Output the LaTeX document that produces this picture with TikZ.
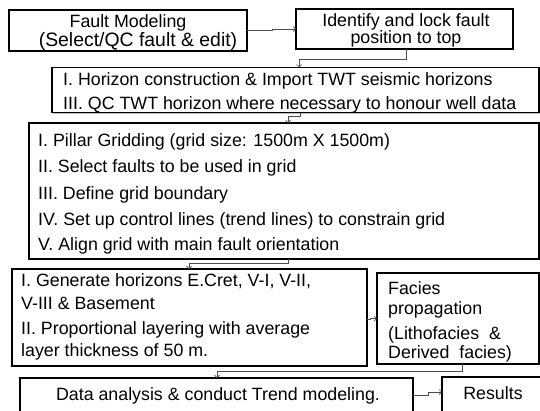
\documentclass[tikz,border=0pt]{standalone}
\usepackage{fontspec}
\setmainfont{Liberation Sans}
\usetikzlibrary{arrows.meta,shadows}

\tikzset{
  box/.style={draw=black, line width=1.1pt, fill=white, inner sep=0pt, outer sep=0pt,
    rectangle, drop shadow={shadow xshift=1.2pt, shadow yshift=-1.2pt, fill=black!45, opacity=0.6}},
  txt/.style={inner sep=0pt, yshift=-4pt, font=\fontsize{17.8}{20}\selectfont},
  lt/.style={txt, anchor=mid west},
  ct/.style={txt, anchor=mid},
  conn/.style={draw=black!70, line width=0.7pt},
  arr/.style={conn, -{Straight Barb[length=2.5pt,width=5pt]}}
}

\begin{document}
\begin{tikzpicture}[x=1pt, y=-1pt]
\useasboundingbox (0,0) rectangle (540,410);

% process boxes
\node[box, minimum width=238pt, minimum height=41pt]  (b1) at (128,30.5) {};
\node[box, minimum width=217pt, minimum height=40pt]  (b2) at (404.5,29) {};
\node[box, minimum width=487pt, minimum height=45pt]  (b3) at (295.5,90) {};
\node[box, minimum width=510pt, minimum height=136pt] (b4) at (284,191) {};
\node[box, minimum width=355pt, minimum height=97pt]  (b5) at (189.5,317.5) {};
\node[box, minimum width=162pt, minimum height=91pt]  (b6) at (458,318.5) {};
\node[box, minimum width=393pt, minimum height=44pt]  (b7) at (216.5,400) {};
\node[box, minimum width=116pt, minimum height=44pt]  (b8) at (500,399) {};

% box texts
\node[ct] (t1a) at (128,21) {Fault Modeling};
\node[ct, font=\fontsize{19.4}{22}\selectfont] (t1b) at (138,40) {(Select/QC fault \& edit)};
\node[ct] (t2a) at (406,20) {Identify and lock fault};
\node[ct] (t2b) at (406,37) {position to top};

\node[lt] (t3a) at (63,79)  {I. Horizon construction \& Import TWT seismic horizons};
\node[lt] (t3b) at (63,103) {III. QC TWT horizon where necessary to honour well data};

\node[lt] (t4a) at (38,140) {I. Pillar Gridding (grid size: 1500m X 1500m)};
\node[lt] (t4b) at (38,166) {II. Select faults to be used in grid};
\node[lt] (t4c) at (38,193) {III. Define grid boundary};
\node[lt] (t4d) at (38,219) {IV. Set up control lines (trend lines) to constrain grid};
\node[lt] (t4e) at (38,244) {V. Align grid with main fault orientation};

\node[lt] (t5a) at (21,280) {I. Generate horizons E.Cret, V-I, V-II,};
\node[lt] (t5b) at (21,303) {V-III \& Basement};
\node[lt] (t5c) at (21,328) {II. Proportional layering with average};
\node[lt] (t5d) at (21,350) {layer thickness of 50 m.};

\node[lt] (t6a) at (388,288) {Facies};
\node[lt] (t6b) at (388,308) {propagation};
\node[lt] (t6c) at (388,333) {(Lithofacies\ \ \&};
\node[lt] (t6d) at (388,352) {Derived\ \ facies)};

\node[ct] (t7) at (218,394) {Data analysis \& conduct Trend modeling.};
\node[ct] (t8) at (493,393) {Results};

% bend points of the connectors
\coordinate (j1) at (272,30);
\coordinate (j2a) at (406,59);
\coordinate (j2b) at (299,59);
\coordinate (j3a) at (300,116);
\coordinate (j3b) at (288,116);
\coordinate (j4a) at (288,263);
\coordinate (j4b) at (189,263);
\coordinate (j5) at (370,319);
\coordinate (j6a) at (462,371);
\coordinate (j6b) at (217,371);
\coordinate (j7a) at (428,395);
\coordinate (j7b) at (428,392);

% connectors
\draw[arr] (b1.east |- j1) -- (j1) |- (b2.west);
\draw[arr] (b2.south -| j2a) -- (j2a) -- (j2b) -- (b3.north -| j2b);
\draw[arr] (b3.south -| j3a) -- (j3a) -- (j3b) -- (b4.north -| j3b);
\draw[arr] (b4.south -| j4a) -- (j4a) -- (j4b) -- (b5.north -| j4b);
\draw[arr] (b5.east |- j5) -- (j5) |- (b6.west);
\draw[arr] (b6.south -| j6a) -- (j6a) -- (j6b) -- (b7.north -| j6b);
\draw[arr] (b7.east |- j7a) -- (j7a) -- (j7b) -- (b8.west |- j7b);
\end{tikzpicture}
\end{document}
